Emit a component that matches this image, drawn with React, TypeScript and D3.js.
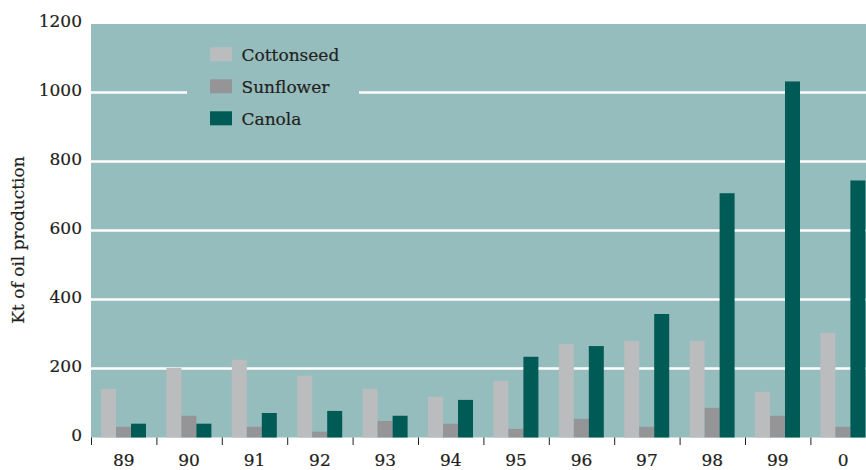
import React from "react";
import * as d3 from "d3";

const years = ["89", "90", "91", "92", "93", "94", "95", "96", "97", "98", "99", "0"];
const cottonseed = [141, 202, 225, 179, 141, 118, 164, 271, 280, 280, 132, 303];
const sunflower = [31, 63, 31, 17, 48, 40, 25, 54, 31, 86, 63, 31];
const canola = [40, 40, 71, 77, 63, 109, 234, 265, 358, 708, 1032, 745];
const seriesNames = ["Cottonseed", "Sunflower", "Canola"];
const yTicks = [0, 200, 400, 600, 800, 1000, 1200];

const colors = ["#BBBCBE", "#959597", "#005A55"];
const BG = "#96BDBD";
const TEXT = "#231F20";
const FONT = "'DejaVu Serif', serif";

export default function App() {
  const W = 866;
  const H = 470;
  const left = 91;
  const top = 24;
  const bottom = 437.5;
  const bandW = 65.4;

  const x = d3
    .scaleBand<string>()
    .domain(years)
    .range([left, left + bandW * years.length])
    .padding(0);
  const inner = d3.scaleBand<string>().domain(seriesNames).range([10, 55]).padding(0);
  const y = d3.scaleLinear().domain([0, 1200]).range([bottom, 23.5]);

  const data = [cottonseed, sunflower, canola];
  const textProps = { fontSize: 17, fill: TEXT, stroke: TEXT, strokeWidth: 0.2 };

  return (
    <svg
      width={W}
      height={H}
      style={{ position: "absolute", left: 0, top: 0, display: "block" }}
      fontFamily={FONT}
    >
      <rect x={0} y={0} width={W} height={H} fill="#ffffff" />
      <rect x={left} y={top} width={W - left} height={bottom - top} fill={BG} />
      {yTicks
        .filter((t) => t > 0 && t < 1200)
        .map((t) => (
          <line
            key={"g" + t}
            x1={left}
            x2={W}
            y1={y(t)}
            y2={y(t)}
            stroke="#ffffff"
            strokeWidth={2.7}
          />
        ))}
      {/* legend background */}
      <rect x={187} y={36} width={172} height={100} fill={BG} />
      {seriesNames.map((s, i) => (
        <g key={"l" + s}>
          <rect x={210} y={47.3 + i * 32} width={22} height={14} fill={colors[i]} />
          <text x={241.5} y={61 + i * 32} {...textProps}>
            {s}
          </text>
        </g>
      ))}
      {data.map((vals, si) =>
        vals.map((v, i) => (
          <rect
            key={"b" + si + "-" + i}
            x={(x(years[i]) as number) + (inner(seriesNames[si]) as number)}
            y={y(v)}
            width={inner.bandwidth()}
            height={y(0) - y(v)}
            fill={colors[si]}
          />
        ))
      )}
      {years.map((yr) => (
        <line
          key={"t" + yr}
          x1={(x(yr) as number) + 0.5}
          x2={(x(yr) as number) + 0.5}
          y1={bottom}
          y2={445}
          stroke={TEXT}
          strokeWidth={1}
        />
      ))}
      {years.map((yr) => (
        <text
          key={"x" + yr}
          x={(x(yr) as number) + x.bandwidth() / 2}
          y={466}
          textAnchor="middle"
          {...textProps}
        >
          {yr}
        </text>
      ))}
      {yTicks.map((t) => (
        <text key={"y" + t} x={82} y={y(t) + 3} textAnchor="end" {...textProps}>
          {t}
        </text>
      ))}
      <text transform={`translate(24,240) rotate(-90)`} textAnchor="middle" {...textProps}>
        Kt of oil production
      </text>
    </svg>
  );
}
